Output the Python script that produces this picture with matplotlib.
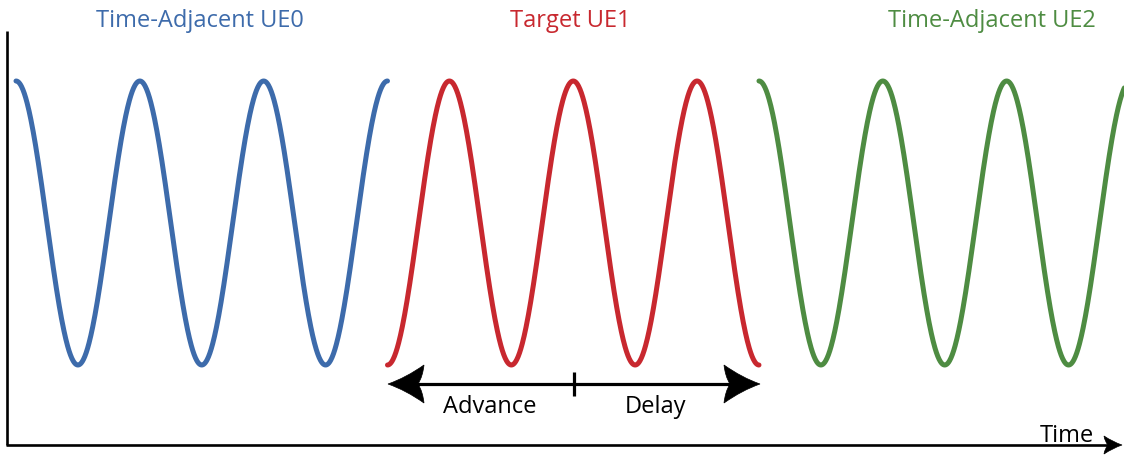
import numpy as np
import matplotlib
matplotlib.use("Agg")
import matplotlib.pyplot as plt
from matplotlib.path import Path
from matplotlib.patches import PathPatch

# ---------------- data ----------------
ue_labels = ["Time-Adjacent UE0", "Target UE1", "Time-Adjacent UE2"]
ue_colors = ["#3D6BAB", "#C8282F", "#4E8C42"]
seg_start = [0.0, 3.0, 6.0]          # in signal periods
seg_end = [3.0, 6.0, 8.95]
seg_phase = [0.0, 0.5, 0.0]          # fraction of period at segment start
axis_label = "Time"
shift_labels = ["Advance", "Delay"]

# ---------------- layout ----------------
W, H = 1124, 456
PX_PER_PERIOD = 123.83
T0_PX = 16.0
Y_MID_PX, AMP_PX = 224.0, 142.0


def fx(px):
    return (px - T0_PX) / PX_PER_PERIOD


def fy(py):
    return (Y_MID_PX - py) / AMP_PX


fig = plt.figure(figsize=(W / 100, H / 100), dpi=100)
ax = fig.add_axes([0, 0, 1, 1])
ax.set_axis_off()
ax.set_xlim(fx(0), fx(W))
ax.set_ylim(fy(H), fy(0))

FONT = "Open Sans"
FS = 17
FW = "medium"

# waves
for s, e, ph, c in zip(seg_start, seg_end, seg_phase, ue_colors):
    t = np.linspace(s, e, 800)
    ax.plot(t, np.cos(2 * np.pi * (t - s + ph)), color=c, lw=3.6,
            solid_capstyle="round", zorder=3)

# titles
title_x_px = [200, 570, 992]
for lab, c, xp in zip(ue_labels, ue_colors, title_x_px):
    ax.text(fx(xp), fy(27), lab, color=c, fontsize=FS, family=FONT,
            fontweight=FW, ha="center", va="baseline")


def arrow_head(tip_px, direction, length, half_w, notch, color="black"):
    tx, ty = tip_px
    d = direction  # +1 pointing right, -1 pointing left
    bx = tx - d * length
    verts = [
        (tx, ty),
        (tx - d * length * 0.5, ty - half_w * 0.33),
        (bx, ty - half_w),
        (bx + d * (length - notch) * 0.2, ty - half_w * 0.4),
        (tx - d * notch, ty),
        (bx + d * (length - notch) * 0.2, ty + half_w * 0.4),
        (bx, ty + half_w),
        (tx - d * length * 0.5, ty + half_w * 0.33),
        (tx, ty),
        (tx, ty),
    ]
    codes = [Path.MOVETO, Path.CURVE3, Path.CURVE3, Path.CURVE3, Path.CURVE3,
             Path.CURVE3, Path.CURVE3, Path.CURVE3, Path.CURVE3, Path.CLOSEPOLY]
    verts = [(fx(a), fy(b)) for a, b in verts]
    ax.add_patch(PathPatch(Path(verts, codes), facecolor=color,
                           edgecolor=color, lw=0.5, zorder=5))


# axes lines
ax.plot([fx(7), fx(7)], [fy(32), fy(446)], color="black", lw=1.9,
        solid_capstyle="butt")
ax.plot([fx(6.3), fx(1110)], [fy(446), fy(446)], color="black", lw=1.9,
        solid_capstyle="butt")
arrow_head((1122, 446), +1, 18, 9, 14)
ax.text(fx(1040), fy(442.5), axis_label, fontsize=FS, family=FONT,
        fontweight=FW, ha="left", va="baseline", color="black")

# advance / delay arrow
ax.plot([fx(410), fx(738)], [fy(385), fy(385)], color="black", lw=2.3,
        solid_capstyle="butt")
ax.plot([fx(574), fx(574)], [fy(373), fy(397)], color="black", lw=2.3,
        solid_capstyle="butt")
arrow_head((388, 385), -1, 36, 19, 30)
arrow_head((760, 385), +1, 36, 19, 30)
ax.text(fx(490), fy(413), shift_labels[0], fontsize=FS, family=FONT,
        fontweight=FW, ha="center", va="baseline", color="black")
ax.text(fx(655), fy(413), shift_labels[1], fontsize=FS, family=FONT,
        fontweight=FW, ha="center", va="baseline", color="black")

fig.savefig("out.png", dpi=100, facecolor="white")
